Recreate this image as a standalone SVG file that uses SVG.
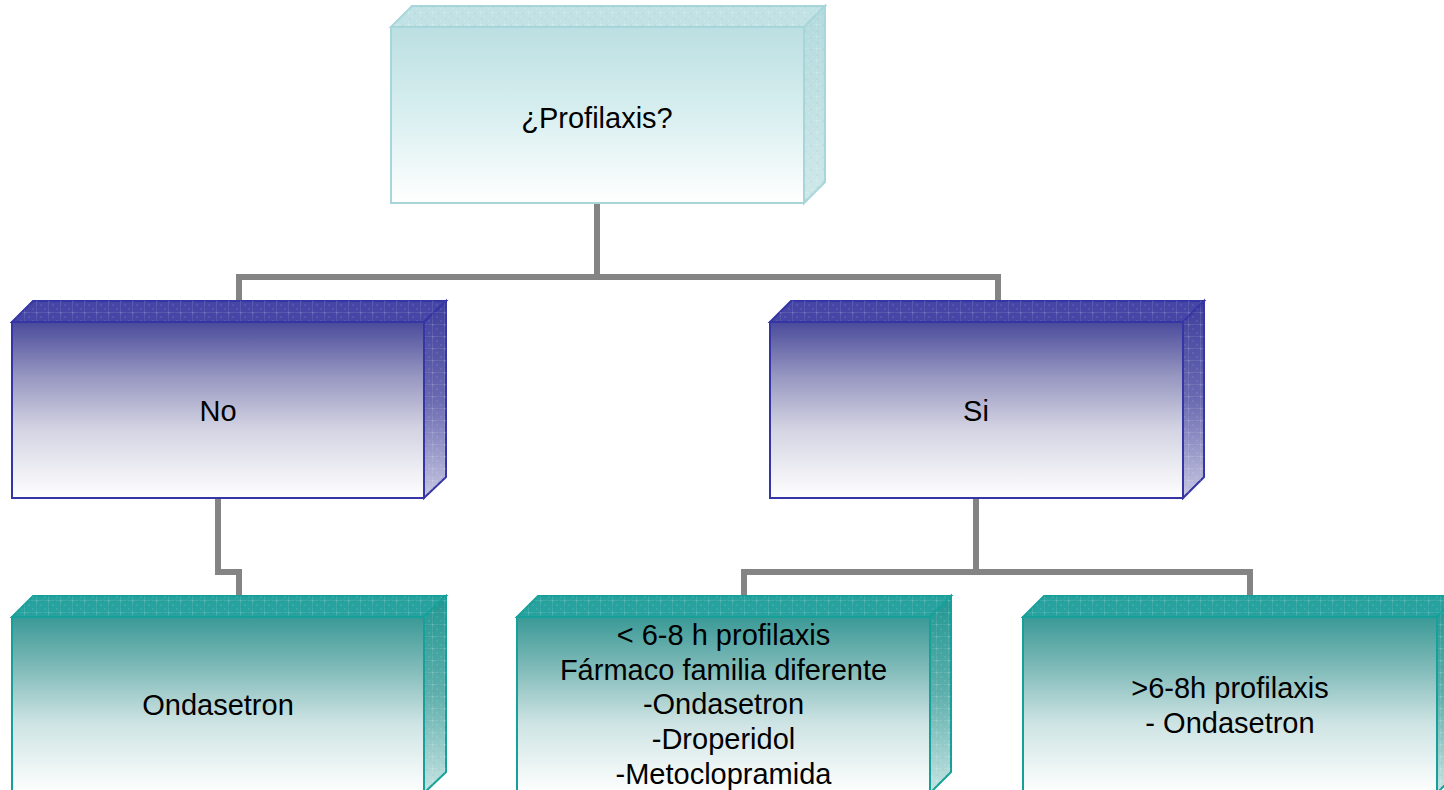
<svg xmlns="http://www.w3.org/2000/svg" width="1444" height="790" viewBox="0 0 1444 790">
<style>
.lbl{font-family:"Liberation Sans",Arial,sans-serif;font-size:29px;fill:#000;text-anchor:middle}
.conn{fill:none;stroke:#848484;stroke-width:6;stroke-linejoin:miter;stroke-linecap:butt}
.tealE{stroke:#a6d6da;stroke-width:2}
.blueE{stroke:#3535a5;stroke-width:2}
.grnE{stroke:#16a09a;stroke-width:2}
</style>
<defs>
<pattern id="tex" width="12" height="12" patternUnits="userSpaceOnUse">
<rect x="0" y="0" width="2" height="2" fill="#fff" fill-opacity="0.08"/>
<rect x="4" y="4" width="2" height="2" fill="#fff" fill-opacity="0.08"/>
<rect x="8" y="8" width="2" height="2" fill="#fff" fill-opacity="0.08"/>
<rect x="0" y="6" width="2" height="2" fill="#000" fill-opacity="0.04"/>
<rect x="6" y="0" width="2" height="2" fill="#000" fill-opacity="0.04"/>
<path d="M0 0.5H12M0.5 0V12" stroke="#fff" stroke-opacity="0.1" stroke-width="1"/>
</pattern>
<linearGradient id="gTop" x1="0" y1="0" x2="0" y2="1">
<stop offset="0" stop-color="#bbdfe2"/>
<stop offset="0.5" stop-color="#d9eff0"/>
<stop offset="1" stop-color="#ffffff"/>
</linearGradient>
<linearGradient id="gBlue" x1="0" y1="0" x2="0" y2="1">
<stop offset="0" stop-color="#4a4a9c"/>
<stop offset="0.3" stop-color="#9595c0"/>
<stop offset="0.6" stop-color="#d2d2e2"/>
<stop offset="1" stop-color="#ffffff"/>
</linearGradient>
<linearGradient id="gBlueS" x1="0" y1="0" x2="0" y2="1">
<stop offset="0" stop-color="#3e3e9e"/>
<stop offset="0.5" stop-color="#6a6ab2"/>
<stop offset="1" stop-color="#c6c6e2"/>
</linearGradient>
<linearGradient id="gTeal" x1="0" y1="0" x2="0" y2="1">
<stop offset="0" stop-color="#3a9996"/>
<stop offset="0.3" stop-color="#82bcba"/>
<stop offset="0.6" stop-color="#cde3e3"/>
<stop offset="1" stop-color="#ffffff"/>
</linearGradient>
<linearGradient id="gTealS" x1="0" y1="0" x2="0" y2="1">
<stop offset="0" stop-color="#209792"/>
<stop offset="0.5" stop-color="#5fb0ad"/>
<stop offset="1" stop-color="#c6e4e3"/>
</linearGradient>
<linearGradient id="gTopS" x1="0" y1="0" x2="0" y2="1">
<stop offset="0" stop-color="#b3dadd"/>
<stop offset="1" stop-color="#cfe8ea"/>
</linearGradient>
</defs>

<g id="connectors">
<path class="conn" d="M597 203V277"/>
<path class="conn" d="M239 300V277H998V300"/>
<path class="conn" d="M218 498V572H239V596"/>
<path class="conn" d="M976 498V572"/>
<path class="conn" d="M744 596V572H1250V596"/>
</g>

<g id="node-profilaxis">
<polygon class="tealE" points="391,27 412,6 825,6 804,27" fill="#c1e2e5"/>
<polygon points="391,27 412,6 825,6 804,27" fill="url(#tex)"/>
<polygon class="tealE" points="804,27 825,6 825,182 804,203" fill="url(#gTopS)"/>
<polygon points="804,27 825,6 825,182 804,203" fill="url(#tex)"/>
<rect class="tealE" x="391" y="27" width="413" height="176" fill="url(#gTop)"/>
<text class="lbl" x="597" y="128">¿Profilaxis?</text>
</g>

<g id="node-no">
<polygon class="blueE" points="12,322 33,301 446,301 424,322" fill="#4646a6"/>
<polygon points="12,322 33,301 446,301 424,322" fill="url(#tex)"/>
<polygon class="blueE" points="424,322 446,301 446,477 424,498" fill="url(#gBlueS)"/>
<polygon points="424,322 446,301 446,477 424,498" fill="url(#tex)"/>
<rect class="blueE" x="12" y="322" width="412" height="176" fill="url(#gBlue)"/>
<text class="lbl" x="218" y="421">No</text>
</g>

<g id="node-si">
<polygon class="blueE" points="770,322 791,301 1204,301 1183,322" fill="#4646a6"/>
<polygon points="770,322 791,301 1204,301 1183,322" fill="url(#tex)"/>
<polygon class="blueE" points="1183,322 1204,301 1204,477 1183,498" fill="url(#gBlueS)"/>
<polygon points="1183,322 1204,301 1204,477 1183,498" fill="url(#tex)"/>
<rect class="blueE" x="770" y="322" width="413" height="176" fill="url(#gBlue)"/>
<text class="lbl" x="976" y="421">Si</text>
</g>

<g id="node-ondasetron">
<polygon class="grnE" points="12,617 33,596 446,596 424,617" fill="#27a29e"/>
<polygon points="12,617 33,596 446,596 424,617" fill="url(#tex)"/>
<polygon class="grnE" points="424,617 446,596 446,772 424,793" fill="url(#gTealS)"/>
<polygon points="424,617 446,596 446,772 424,793" fill="url(#tex)"/>
<rect class="grnE" x="12" y="617" width="412" height="176" fill="url(#gTeal)"/>
<text class="lbl" x="218" y="715">Ondasetron</text>
</g>

<g id="node-menos68">
<polygon class="grnE" points="517,617 538,596 951,596 930,617" fill="#27a29e"/>
<polygon points="517,617 538,596 951,596 930,617" fill="url(#tex)"/>
<polygon class="grnE" points="930,617 951,596 951,772 930,793" fill="url(#gTealS)"/>
<polygon points="930,617 951,596 951,772 930,793" fill="url(#tex)"/>
<rect class="grnE" x="517" y="617" width="413" height="176" fill="url(#gTeal)"/>
<text class="lbl" x="723.5" y="645">&lt; 6-8 h profilaxis</text>
<text class="lbl" x="723.5" y="680">Fármaco familia diferente</text>
<text class="lbl" x="723.5" y="714">-Ondasetron</text>
<text class="lbl" x="723.5" y="749">-Droperidol</text>
<text class="lbl" x="723.5" y="784">-Metoclopramida</text>
</g>

<g id="node-mas68">
<polygon class="grnE" points="1023,617 1044,596 1458,596 1437,617" fill="#27a29e"/>
<polygon points="1023,617 1044,596 1458,596 1437,617" fill="url(#tex)"/>
<polygon class="grnE" points="1437,617 1458,596 1458,772 1437,793" fill="url(#gTealS)"/>
<polygon points="1437,617 1458,596 1458,772 1437,793" fill="url(#tex)"/>
<rect class="grnE" x="1023" y="617" width="414" height="176" fill="url(#gTeal)"/>
<text class="lbl" x="1230" y="698">&gt;6-8h profilaxis</text>
<text class="lbl" x="1230" y="733">- Ondasetron</text>
</g>
</svg>
